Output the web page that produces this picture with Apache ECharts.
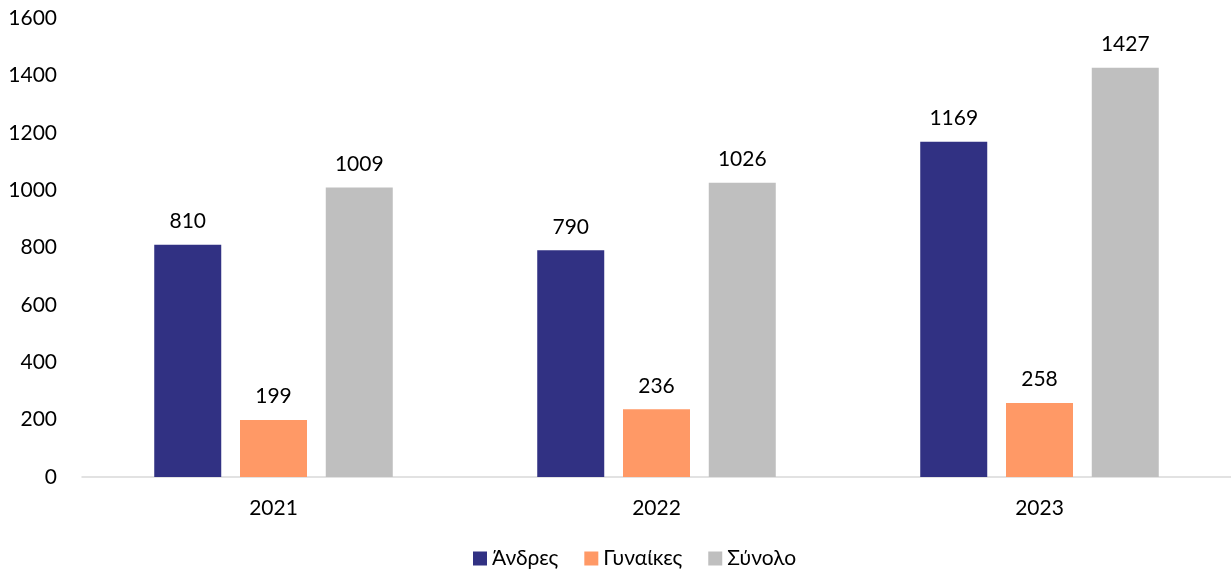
<!DOCTYPE html>
<html>
<head>
<meta charset="utf-8">
<script src="https://cdn.jsdelivr.net/npm/echarts@6/dist/echarts.min.js"></script>
<style>
  html, body { margin: 0; padding: 0; background: #fff; }
  #chart { width: 1231px; height: 570px; }
</style>
</head>
<body>
<div id="chart"></div>
<script>
// data
const years = ["2021", "2022", "2023"];
const andres = [810, 790, 1169];
const gynaikes = [199, 236, 258];
const synolo = [1009, 1026, 1427];
const seriesNames = ["Άνδρες", "Γυναίκες", "Σύνολο"];

const chart = echarts.init(document.getElementById("chart"));
const font = "Lato, 'Open Sans', sans-serif";
const fs = 21;

function barSeries(name, data, color) {
  return {
    name: name,
    type: "bar",
    data: data,
    barWidth: 67,
    barGap: "28%",
    itemStyle: { color: color },
    label: {
      show: true,
      position: "top",
      distance: 13,
      color: "#000",
      fontSize: fs,
      fontFamily: font
    }
  };
}

const option = {
  animation: false,
  grid: { left: 82, right: 0, top: 18, bottom: 93, containLabel: false },
  legend: {
    top: 543,
    left: 468,
    itemWidth: 14,
    itemHeight: 14,
    itemGap: 26,
    icon: "rect",
    textStyle: { fontSize: fs, color: "#000", fontFamily: font },
    data: seriesNames
  },
  xAxis: {
    type: "category",
    data: years,
    axisLine: { lineStyle: { color: "#d9d9d9", width: 1.5 } },
    axisTick: { show: false },
    axisLabel: { color: "#000", fontSize: fs, fontFamily: font, margin: 21 }
  },
  yAxis: {
    type: "value",
    min: 0,
    max: 1600,
    interval: 200,
    splitLine: { show: false },
    axisLine: { show: false },
    axisTick: { show: false },
    axisLabel: {
      color: "#000", fontSize: fs, fontFamily: font, margin: 25,
      formatter: function (v) { return String(v); }
    }
  },
  series: [
    barSeries(seriesNames[0], andres, "#313183"),
    barSeries(seriesNames[1], gynaikes, "#FF9966"),
    barSeries(seriesNames[2], synolo, "#BFBFBF")
  ]
};

chart.setOption(option);
</script>
</body>
</html>
